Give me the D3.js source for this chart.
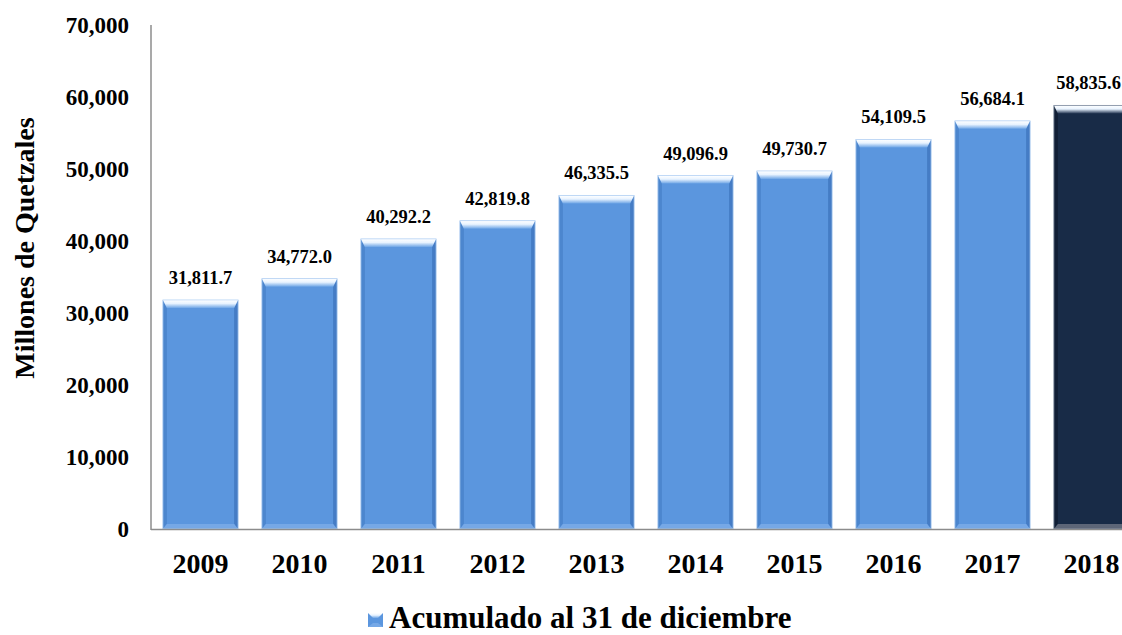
<!DOCTYPE html>
<html>
<head>
<meta charset="utf-8">
<script src="https://cdn.jsdelivr.net/npm/d3@7"></script>
<style>
  html, body { margin: 0; padding: 0; background: #fff; overflow: hidden; }
  svg text { font-family: "Liberation Serif", "Times New Roman", serif; font-weight: bold; fill: #000; }
</style>
</head>
<body>
<svg id="chart" width="1122" height="635"></svg>
<script>
// Data
const years = ["2009", "2010", "2011", "2012", "2013", "2014", "2015", "2016", "2017", "2018"];
const values = [31811.7, 34772.0, 40292.2, 42819.8, 46335.5, 49096.9, 49730.7, 54109.5, 56684.1, 58835.6];
const yTicks = [0, 10000, 20000, 30000, 40000, 50000, 60000, 70000];
const seriesName = "Acumulado al 31 de diciembre";
const yTitle = "Millones de Quetzales";

const svg = d3.select("#chart");
const margin = { left: 151, right: 1141, top: 25, bottom: 529 };

const x = d3.scaleBand()
    .domain(years)
    .range([margin.left, margin.right])
    .paddingInner(0.24)
    .paddingOuter(0.12);

const y = d3.scaleLinear()
    .domain([0, 70000])
    .range([margin.bottom, margin.top]);

const fmtTick = d3.format(",");
const fmtVal = v => d3.format(",.1f")(v);

// gradients for bevel
const defs = svg.append("defs");
function topGrad(id, base) {
    const g = defs.append("linearGradient").attr("id", id).attr("x1", 0).attr("y1", 0).attr("x2", 0).attr("y2", 1);
    g.append("stop").attr("offset", "0%").attr("stop-color", "#ffffff");
    g.append("stop").attr("offset", "45%").attr("stop-color", "#e8f3ff");
    g.append("stop").attr("offset", "100%").attr("stop-color", base);
}
topGrad("topBlue", "#6fa6e6");
topGrad("topDark", "#2a3c58");

const colors = years.map(yr => yr === "2018" ? "#182b47" : "#5b96de");

// y axis line
svg.append("line")
    .attr("x1", margin.left).attr("x2", margin.left)
    .attr("y1", margin.top).attr("y2", margin.bottom + 1)
    .attr("stroke", "#8c8c8c").attr("stroke-width", 1.5);

// y tick labels
svg.append("g").selectAll("text")
    .data(yTicks)
    .join("text")
    .attr("x", 129)
    .attr("y", d => y(d))
    .attr("dy", "0.35em")
    .attr("text-anchor", "end")
    .style("font-size", "23px")
    .text(d => fmtTick(d));

// bars
const bw = x.bandwidth();
const bev = 8, side = 4, bot = 5;
const bars = svg.append("g").selectAll("g")
    .data(values.map((v, i) => ({ year: years[i], value: v, color: colors[i] })))
    .join("g");

bars.append("rect")
    .attr("x", d => x(d.year))
    .attr("y", d => y(d.value))
    .attr("width", bw)
    .attr("height", d => y(0) - y(d.value))
    .attr("fill", d => d.color);

// left side shading
bars.append("path")
    .attr("d", d => {
        const x0 = x(d.year), t = y(d.value), b = y(0);
        return `M${x0},${t} L${x0 + side},${t + bev} L${x0 + side},${b - bot} L${x0},${b} Z`;
    })
    .attr("fill", d => d.year === "2018" ? "#0f1d33" : "#4a84cc")
    .attr("opacity", 0.9);

// right side shading
bars.append("path")
    .attr("d", d => {
        const x1 = x(d.year) + bw, t = y(d.value), b = y(0);
        return `M${x1},${t} L${x1 - side},${t + bev} L${x1 - side},${b - bot} L${x1},${b} Z`;
    })
    .attr("fill", d => d.year === "2018" ? "#0d1a2e" : "#4279c2")
    .attr("opacity", 0.9);

// top bevel
bars.append("path")
    .attr("d", d => {
        const x0 = x(d.year), x1 = x0 + bw, t = y(d.value);
        return `M${x0},${t} L${x1},${t} L${x1 - side},${t + bev} L${x0 + side},${t + bev} Z`;
    })
    .attr("fill", d => d.year === "2018" ? "url(#topDark)" : "url(#topBlue)");

// bottom bevel
bars.append("path")
    .attr("d", d => {
        const x0 = x(d.year), x1 = x0 + bw, b = y(0);
        return `M${x0 + side},${b - bot} L${x1 - side},${b - bot} L${x1},${b} L${x0},${b} Z`;
    })
    .attr("fill", d => d.year === "2018" ? "#5d6678" : "#76a8e6");

// outline
bars.append("rect")
    .attr("x", d => x(d.year))
    .attr("y", d => y(d.value))
    .attr("width", bw)
    .attr("height", d => y(0) - y(d.value))
    .attr("fill", "none")
    .attr("stroke", d => d.year === "2018" ? "#8a97aa" : "#bcd6f5")
    .attr("stroke-width", 0.8);

// value labels (last one nudged so it stays inside the window)
bars.append("text")
    .attr("x", d => x(d.year) + bw / 2 - (d.year === "2018" ? 3 : 0))
    .attr("y", d => y(d.value) - 16)
    .attr("text-anchor", "middle")
    .style("font-size", "18.5px")
    .text(d => fmtVal(d.value));

// x baseline
svg.append("line")
    .attr("x1", margin.left).attr("x2", margin.right)
    .attr("y1", margin.bottom + 0.5).attr("y2", margin.bottom + 0.5)
    .attr("stroke", "#8c8c8c").attr("stroke-width", 1.5);

// x labels
svg.append("g").selectAll("text")
    .data(years)
    .join("text")
    .attr("x", d => x(d) + bw / 2)
    .attr("y", 573)
    .attr("text-anchor", "middle")
    .style("font-size", "28px")
    .text(d => d);

// y title
svg.append("text")
    .attr("transform", "translate(34,248) rotate(-90)")
    .attr("text-anchor", "middle")
    .style("font-size", "28px")
    .text(yTitle);

// legend
const lg = svg.append("g").attr("transform", "translate(368,613)");
lg.append("rect").attr("x", 0).attr("y", 0).attr("width", 15).attr("height", 14).attr("fill", "#5b96de");
lg.append("path").attr("d", "M0,0 L15,0 L10,5 L5,5 Z").attr("fill", "url(#topBlue)");
lg.append("path").attr("d", "M0,14 L15,14 L10,10 L5,10 Z").attr("fill", "#76a8e6");
lg.append("text")
    .attr("x", 21)
    .attr("y", 15)
    .style("font-size", "31px")
    .text(seriesName);
</script>
</body>
</html>
